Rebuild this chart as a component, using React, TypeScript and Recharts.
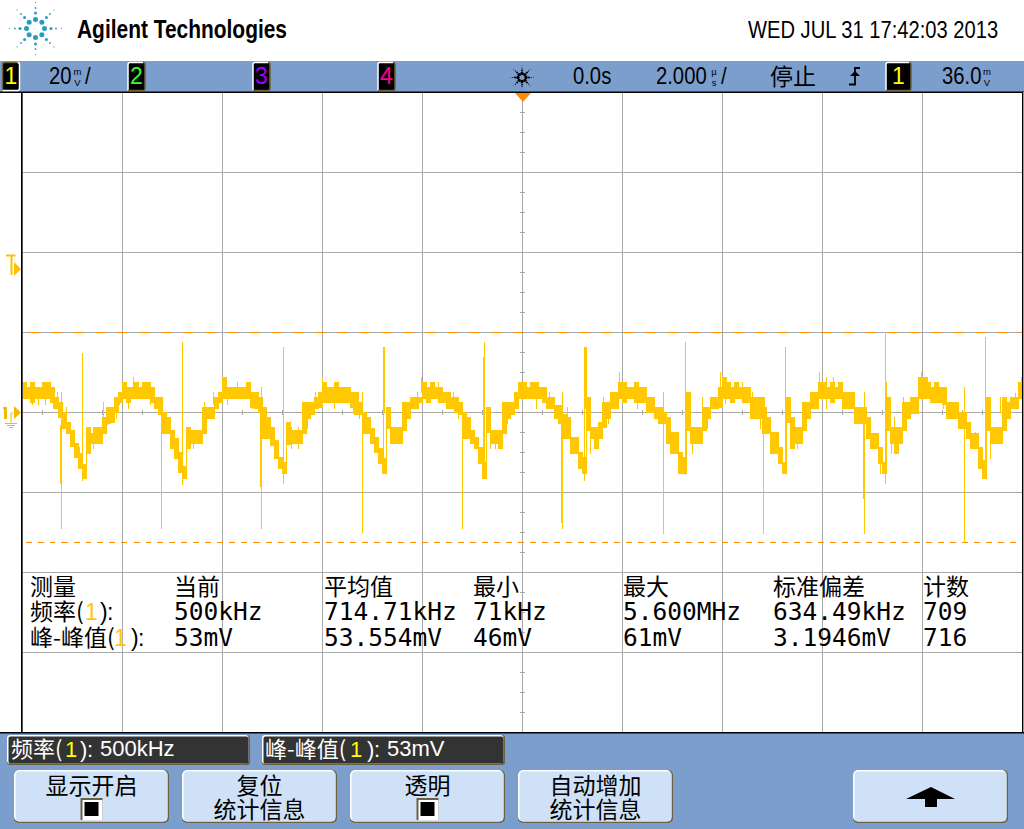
import { Area, ComposedChart, Line, ReferenceLine, XAxis, YAxis } from 'recharts';

const TRACE = '#FFC800';
const GRID = '#A8A8A8';
const THRESHOLD = '#FF8C00';
const SANS = '"Liberation Sans", Arial, sans-serif';
const MONO = '"DejaVu Sans Mono", monospace';
const CJK = '"Noto Sans CJK SC", sans-serif';

// scope settings: 2 us/div, 20 mV/div
const TIME_DIVS = [-10, -8, -6, -4, -2, 0, 2, 4, 6, 8, 10];
const VOLT_DIVS = [-80, -60, -40, -20, 0, 20, 40, 60, 80];
const SAMPLE_US = 0.08;

// upper edge of the trace in mV, one row per 2 us of screen
const traceHigh = [
  7.6, 6.3, 7.6, 6.3, 6.3, 7.6, 7.6, 6.3, 3.8, 2.6, 0, -2.4, -4.5, -7.8, -10.3, -13, -3.7, -5.3, -3.7, -3.7, -1.2, 1.3, 1.3, 3.8, 5.1,
  7.6, 6.3, 6.3, 7.6, 6.3, 7.6, 7.6, 6.3, 3.8, 3.8, 0.1, -1.2, -4.5, -6.6, -9.9, -13.6, -3.7, -4.5, -4.5, -4.5, 1.3, 1.3, 1.3, 3.8, 5.1,
  8.8, 6.3, 6.3, 6.3, 6.3, 6.3, 7.6, 5.1, 5.1, 3.8, 1.3, -1.2, -3.7, -7, -11.2, -12.4, -2.4, -4.5, -4.5, -4.5, 2.6, 2.6, 2.6, 3.8, 5.1,
  7.6, 6.3, 6.3, 7.6, 6.3, 6.3, 6.3, 5.1, 5.1, 2.6, 0.1, -1.2, -4.1, -6.2, -9.1, -11.6, 1.3, -3.7, -3.7, -3.7, 2.6, 2.6, 3.8, 3.8, 3.8,
  7.6, 6.3, 7.6, 6.3, 6.3, 5.1, 5.1, 3.8, 3.8, 2.6, 0, -1.2, -4.5, -6.2, -8.7, -12.4, 1.3, -4.5, -4.5, -4.5, 2.6, 2.6, 2.6, 5.1, 7.6,
  7.6, 6.3, 7.6, 7.6, 6.3, 6.3, 3.8, 3.8, 1.8, 1.8, -0.4, -1.2, -6.2, -6.2, -9.9, -11.2, 3.8, -3.7, -3.7, -2.4, 2.6, 2.6, 5.1, 5.1, 7.6,
  7.6, 6.3, 6.3, 7.6, 6.3, 6.3, 3.8, 3.8, 1.3, 1.3, 0.1, -1.2, -4.9, -4.9, -9.9, -11.2, 5.1, -3.7, -3.7, -3.7, 1.3, 1.3, 3.8, 3.8, 6.3,
  8.8, 7.6, 6.3, 7.6, 6.3, 6.3, 6.3, 3.8, 3.8, 3.8, 1.3, -1.2, -4.9, -4.9, -8.7, -12.4, 3.8, -1.2, -3.7, -3.7, 2.6, 2.6, 5.1, 5.1, 7.6,
  7.6, 6.3, 7.6, 6.3, 7.6, 5.1, 5.1, 5.1, 1.3, 1.3, 1.3, -1.2, -5.3, -5.3, -8.7, -12.4, 3.8, -3.7, -3.7, -3.7, 2.6, 2.6, 3.8, 3.8, 8.8,
  8.8, 7.6, 6.3, 7.6, 6.3, 6.3, 2.6, 2.6, 2.6, 0.1, 0.1, -2.4, -5.3, -5.3, -8.7, -12, 3.8, -3.7, -3.7, -3.7, 3.8, 2.6, 3.8, 3.8, 7.6, 7.6,
];

// lower edge of the trace in mV
const traceLow = [
  3.4, 3.4, 2.6, 3.4, 3.4, 3.4, 3.4, 2.6, 0.9, -1.2, -4.1, -5.3, -8.5, -11.2, -14.1, -16.6, -10.3, -7.8, -7.8, -7.8, -5.3, -2.8, -2.4, 0.1, 2.6,
  3.4, 2.6, 3.4, 3.4, 3.4, 3.4, 3.4, 2.6, 0.9, -0.4, -5.3, -5.3, -9.1, -11.6, -14.9, -16.6, -9.1, -7.8, -7.8, -7.8, -5.3, -1.6, -1.6, 0.9, 2.6,
  3.4, 3.4, 3.4, 3.4, 3.4, 3.4, 3.4, 1.3, 0.9, 0.1, -6.6, -6.6, -8.3, -11.6, -14.1, -15.3, -8, -7.8, -7.8, -7.8, -5.3, -1.6, -0.4, 0.9, 1.3,
  2.6, 2.6, 2.6, 2.6, 2.6, 2.6, 2.6, 1.3, -0.4, -0.4, -5.3, -5.3, -7.8, -10, -12.8, -15.3, -4.1, -7.8, -7.8, -7.8, -4.5, -1.6, 0.9, 0.9, 2.6,
  3.4, 2.6, 3.4, 3.4, 2.6, 2.6, 0.9, 0.9, 0.1, -0.4, -6.6, -6.6, -7.8, -9.1, -12.8, -16.6, -4.9, -7.8, -7.8, -9.1, -5.3, -1.6, -0.4, 0.9, 3.4,
  3.4, 3.4, 3.4, 3.4, 3.4, 2.6, 0.9, 0.9, -1.6, -2.8, -6.6, -6.6, -10.3, -10.3, -14.1, -15.3, -4.5, -6.6, -9.1, -6.6, -3.7, -1.6, 0.9, 0.9, 3.4,
  2.6, 3.4, 3.4, 2.6, 2.6, 2.6, 0.1, 0.1, -1.6, -2.8, -2.8, -7.8, -10.3, -10.3, -15.3, -15.3, -4.5, -7.8, -7.8, -7.8, -4.5, -1.6, 0.9, 0.9, 1.3,
  3.4, 3.4, 2.6, 3.4, 3.4, 2.6, 2.6, -1.6, -1.6, -1.6, -5.3, -5.3, -10.3, -10.3, -12.8, -15.3, -2.4, -9.1, -7.8, -7.8, -4.5, -1.6, 0.9, 0.9, 3.4,
  3.4, 3.4, 2.6, 3.4, 3.4, 0.9, 0.9, 0.9, -2.8, -2.8, -2.8, -6.6, -9.1, -9.1, -12.8, -15.3, -4.5, -7.8, -10.3, -7.8, -4.5, -1.6, -0.3, -0.3, 3.4,
  3.4, 3.4, 2.6, 2.6, 2.6, 2, -1.6, -1.6, -1.6, -4.1, -4.1, -6.6, -9.1, -9.1, -14.1, -16.6, -4.5, -7.8, -7.8, -7.8, -4.5, -1.6, 0.9, 0.9, 3.4, 4.7,
];

// switching spikes: time (us), top and bottom (mV)
const spikeTimes = [-9.22, -7.22, -5.22, -3.2, -1.2, 0.8, 2.82, 4.82, 6.84, 8.84, -8.8, -6.8, -4.78, -2.78, -0.76, 1.24, 3.26, 5.26, 7.26, 9.26, -9.24, -5.24, 0.78, 6.82, -2.76, -0.78, 1.26, 1.28, 7.28];
const spikeHighs = [5.1, 1, 6.5, 5.1, 0, 5.1, 5.1, 3.8, 5.1, 6.5, 15, 17.75, 16.5, 16.5, 17.75, 16.5, 17.75, 16.5, 20.25, 19, -3, 0, 0, 0, 16.5, 13.8, 16.5, 16.5, 7.6];
const spikeLows = [-29, -29, -29, -30.25, -29, -29, -30.25, -30.25, -30.25, -32.5, -17, -18, -17.8, -15, -16.6, -17, -15.5, -15.3, -17.8, -16.6, -17.8, -18.6, -27.5, -21.5, 0, -15, 1, 1, 0];

// thin noise whiskers sticking out of the band
const hairTimes = [-9.8, -9.68, -9.54, -9.38, -9.3, -9.12, -8.92, -8.86, -8.72, -8.58, -8.38, -8.3, -8.12, -8.06, -7.88, -7.78, -7.56, -7.44, -7.28, -6.96, -6.72, -6.58, -6.36, -6.18, -5.9, -5.7, -5.4, -4.62, -4.48, -4.3, -4.14, -4, -3.76, -3.38, -3.26, -2.58, -2.34, -2.1, -2.02, -1.8, -1.68, -1.38, -1.28, -0.64, -0.54, -0.3, 0.28, 0.54, 0.9, 1.36, 1.62, 1.72, 1.94, 2.3, 2.46, 3.4, 3.6, 3.7, 3.96, 4.06, 4.4, 4.6, 4.76, 4.84, 5.42, 5.5, 5.66, 5.94, 6.08, 6.22, 6.4, 6.54, 6.96, 7.16, 7.38, 7.44, 7.62, 7.72, 7.98, 8.1, 8.42, 8.72, 9.06, 9.36, 9.56, 9.86, 9.98];
const hairHighs = [5, 5, 5, 5.25, 5.25, 1.5, -8.5, -8.5, -5, -3.5, 2.75, 1, 4, 5.25, 5, 8.8, 7.75, 5.25, 1.5, -8.5, -5, -5, 2.75, 5.25, 5, 7.75, 5.25, -3.5, -3.5, 1, 5.25, 9, 5, 4, 2, -3.5, 1, 5.25, 9, 7.75, 7.75, 5.25, 2, -5, -5, 1, 5, 5.25, 1.5, -4, 4, 1, 10.25, 5, 6.5, -4, 4, 1, 10.25, 5, 7.75, 5.25, 1, 4, -2.4, -4, 1, 10.25, 9, 9, 4, 5.25, -4, -9, -4, -1, 4, 1, 10.25, 9, 4, 0, -4.9, -4, 4, 5, 9];
const hairLows = [2, 2, 2, 0.9, 1, -3.7, -11, -14, -10.3, -9.1, -1, -3, -1.6, 2, 0.9, 5, 4, 2, -0.3, -11, -9.1, -9.1, -1, 2, 2, 4, 1, -9.1, -9.1, -4.1, 1, 6, 0.9, -0.3, -1.6, -6, -2.8, 2, 5, 4, 4, 1, -1.6, -9.1, -9.1, -2.8, 0.9, 1, -1, -10.3, 0, -2.8, 6, 0.9, 3, -10.3, 0, -4.1, 6, 2.2, 4, 1, -4.1, 0, -6, -9.1, -2.8, 6, 0.9, 4, 0.9, 1, -7.8, -15.3, -10.3, -5, 0, -1.6, 6, 5, 0.9, -4.1, -6, -11.6, 0, 0.9, 5];

// measurement cursors
const upperThreshold = 20;
const lowerThreshold = -32.5;

const tableColumns = [174, 324, 473, 623, 773, 923];
const tableHeaders = ['当前', '平均值', '最小', '最大', '标准偏差', '计数'];
const frequencyRow = ['500kHz', '714.71kHz', '71kHz', '5.600MHz', '634.49kHz', '709'];
const peakRow = ['53mV', '53.554mV', '46mV', '61mV', '3.1946mV', '716'];

const traceData = traceHigh.map((high, i) => ({
  t: Number((-10 + i * SAMPLE_US).toFixed(2)),
  band: [traceLow[i], high],
}));

// every whisker is a top-bottom pair followed by a gap
const whiskerData = [
  ...spikeTimes.map((t, i) => [t, spikeHighs[i], spikeLows[i]]),
  ...hairTimes.map((t, i) => [t, hairHighs[i], hairLows[i]]),
].flatMap(([t, high, low]) => [
  { t, v: high },
  { t, v: low },
  { t, v: null },
]);

const minorTimes = Array.from({ length: 49 }, (_, i) => Number((-9.6 + i * 0.4).toFixed(1)));
const minorVolts = Array.from({ length: 31 }, (_, i) => -75 + i * 5);

function Spark({ cx, cy, color, scale = 1, dot = 1 }: { cx: number; cy: number; color: string; scale?: number; dot?: number }) {
  const angles = [0, 45, 90, 135, 180, 225, 270, 315];
  const rings = [
    { radius: 9, size: 2.5 },
    { radius: 15.5, size: 1.5 },
    { radius: 20.5, size: 0.9 },
    { radius: 26, size: 0.6 },
  ];
  return (
    <g transform={`translate(${cx} ${cy}) scale(${scale})`} fill={color}>
      {rings.flatMap((ring) =>
        angles.map((angle) => (
          <circle
            key={`${ring.radius}-${angle}`}
            cx={ring.radius * Math.cos((angle * Math.PI) / 180)}
            cy={ring.radius * Math.sin((angle * Math.PI) / 180)}
            r={ring.size * dot}
          />
        )),
      )}
    </g>
  );
}

function Badge({ x, w, label, color, selected }: { x: number; w: number; label: string; color: string; selected?: boolean }) {
  const y = 62.5;
  const h = 28;
  const r = x + w;
  const b = y + h;
  return (
    <g>
      <rect x={x} y={y} width={w} height={h} rx={3} fill="#000" />
      <path d={`M${x} ${b} V${y + 2} Q${x} ${y} ${x + 2} ${y} H${r - 2}`} fill="none" stroke={selected ? '#6B6040' : '#fff'} strokeWidth={1.5} />
      <path d={`M${r - 2} ${y} Q${r} ${y} ${r} ${y + 2} V${b - 2} Q${r} ${b} ${r - 2} ${b} H${x}`} fill="none" stroke={selected ? '#fff' : '#6B6040'} strokeWidth={1.5} />
      <text x={x + w / 2} y={84} textAnchor="middle" fontFamily={SANS} fontSize={23} fill={color}>
        {label}
      </text>
    </g>
  );
}

function Squeezed({ x, y, children }: { x: number; y: number; children: string }) {
  return (
    <text transform={`translate(${x} ${y}) scale(0.88 1)`} fontFamily={SANS} fontSize={23} fill="#000">
      {children}
    </text>
  );
}

function Unit({ x, top, bottom }: { x: number; top: string; bottom: string }) {
  return (
    <g fontFamily={SANS} fontSize={9.5} fill="#000" textAnchor="middle">
      <text x={x} y={75}>{top}</text>
      <text x={x} y={85.5}>{bottom}</text>
    </g>
  );
}

function SoftKey({ x, w, lines, check }: { x: number; w: number; lines: string[]; check?: boolean }) {
  const cx = x + w / 2;
  return (
    <g>
      <rect x={x} y={770} width={w} height={53} rx={5} fill="#6B6040" />
      <rect x={x} y={770} width={w - 1.5} height={51.5} rx={5} fill="#fff" />
      <rect x={x + 1.5} y={771.5} width={w - 3} height={50} rx={4} fill="#CEE1F7" />
      <text x={cx} y={794} textAnchor="middle" fontFamily={CJK} fontSize={23} fill="#000">{lines[0]}</text>
      {lines[1] && (
        <text x={cx} y={818} textAnchor="middle" fontFamily={CJK} fontSize={23} fill="#000">{lines[1]}</text>
      )}
      {check && (
        <g>
          <rect x={cx - 11} y={798} width={22} height={22} fill="#6B6040" />
          <rect x={cx - 9} y={800} width={20} height={20} fill="#fff" />
          <rect x={cx - 7} y={802} width={14} height={14} fill="#000" />
        </g>
      )}
    </g>
  );
}

function ChannelText({ name, y, size, x, one, close, colon, color, oneColor }: { name: string; y: number; size: number; x: number; one: number; close: number; colon: number; color: string; oneColor: string }) {
  return (
    <g fontFamily={SANS} fontSize={size} fill={color}>
      <text x={x} y={y} fontFamily={CJK}>{name}</text>
      <text x={one} y={y} fill={oneColor}>1</text>
      <text x={close} y={y}>)</text>
      <text x={colon} y={y}>:</text>
    </g>
  );
}

function Chrome() {
  return (
    <svg width={1024} height={829} style={{ position: 'absolute', left: 0, top: 0 }}>
      {/* header */}
      <Spark cx={35.5} cy={28.5} color="#2A9AC0" />
      <text x={77} y={37.5} fontFamily={'"Liberation Sans Narrow", "Liberation Sans"'} fontWeight={700} fontSize={25} textLength={210} lengthAdjust="spacingAndGlyphs">
        Agilent Technologies
      </text>
      <text transform="translate(748 37.5) scale(0.84 1)" fontFamily={SANS} fontSize={24}>
        WED JUL 31 17:42:03 2013
      </text>

      {/* status bar */}
      <rect x={0} y={61} width={1024} height={31} fill="#7C9ECC" />
      <rect x={0} y={91.5} width={1024} height={1.5} fill="#000" />
      <Badge x={2.5} w={17} label="1" color="#FFFF00" selected />
      <Badge x={128} w={17} label="2" color="#33FF33" />
      <Badge x={253} w={17} label="3" color="#A000FF" />
      <Badge x={378} w={17} label="4" color="#FF0090" />
      <Badge x={886} w={25} label="1" color="#FFFF00" />
      <Squeezed x={49} y={84}>20</Squeezed>
      <Squeezed x={85} y={84}>/</Squeezed>
      <Squeezed x={573} y={84}>0.0s</Squeezed>
      <Squeezed x={656} y={84}>2.000</Squeezed>
      <Squeezed x={721} y={84}>/</Squeezed>
      <Squeezed x={942} y={84}>36.0</Squeezed>
      <Unit x={77.5} top="m" bottom="V" />
      <Unit x={714} top="µ" bottom="s" />
      <Unit x={987} top="m" bottom="V" />
      <text x={770} y={85} fontFamily={CJK} fontSize={23}>停止</text>
      <Spark cx={522} cy={77.5} color="#000" scale={0.45} dot={1.5} />
      <path d="M849 84.5 H855 V68 H860" fill="none" stroke="#000" strokeWidth={1.8} />
      <path d="M850 76 L855 71 L860 76 Z" fill="#000" />

      {/* plot frame */}
      <rect x={21} y={92} width={1.5} height={641} fill="#000" />
      <rect x={1022} y={92} width={1} height={641} fill="#000" />
      <rect x={1023} y={92} width={1} height={641} fill="#7C9ECC" />
      <path d="M515 93 H531 L523 102 Z" fill="#FF8C00" />

      {/* left markers */}
      <rect x={6} y={254.5} width={9.5} height={2} fill="#FFC000" />
      <rect x={10.5} y={255} width={2} height={20} fill="#FFC000" />
      <path d="M14 262 L21 269 L14 276 Z" fill="#FFC000" />
      <rect x={4} y={407} width={3} height={12} fill="#F5B800" />
      <rect x={3} y={407} width={2} height={2} fill="#F5B800" />
      <path d="M14 406 L21 412.5 L14 419 Z" fill="#F5B800" />
      <path d="M13 413 H11 V423 M5 423.5 H17 M7 425.5 H15 M9 427.5 H13" fill="none" stroke="#F5B800" strokeWidth={1} />

      {/* measurement table */}
      <text x={30} y={595} fontFamily={CJK} fontSize={23}>测量</text>
      {tableHeaders.map((label, i) => (
        <text key={label} x={tableColumns[i]} y={595} fontFamily={CJK} fontSize={23}>{label}</text>
      ))}
      <ChannelText name="频率(" y={620} size={23} x={30} one={85} close={100} colon={107} color="#000" oneColor={TRACE} />
      <ChannelText name="峰-峰值(" y={646} size={23} x={30} one={114} close={131} colon={138} color="#000" oneColor={TRACE} />
      {frequencyRow.map((value, i) => (
        <text key={value} x={tableColumns[i]} y={620} fontFamily={MONO} fontSize={24.5}>{value}</text>
      ))}
      {peakRow.map((value, i) => (
        <text key={value} x={tableColumns[i]} y={646} fontFamily={MONO} fontSize={24.5}>{value}</text>
      ))}

      {/* softkey area */}
      <rect x={0} y={733} width={1024} height={96} fill="#7C9ECC" />
      <rect x={0} y={732} width={1024} height={1.5} fill="#000" />
      <rect x={7} y={735} width={243} height={30} rx={3} fill="#6B6040" />
      <rect x={7} y={735} width={241.5} height={28.5} rx={3} fill="#fff" />
      <rect x={8.5} y={736.5} width={240} height={27} rx={2} fill="#333" />
      <rect x={262} y={735} width={243} height={30} rx={3} fill="#6B6040" />
      <rect x={262} y={735} width={241.5} height={28.5} rx={3} fill="#fff" />
      <rect x={263.5} y={736.5} width={240} height={27} rx={2} fill="#333" />
      <ChannelText name="频率(" y={757} size={22} x={11} one={65} close={80} colon={87} color="#fff" oneColor="#FFFF00" />
      <text x={100} y={756} fontFamily={SANS} fontSize={22} fill="#fff">500kHz</text>
      <ChannelText name="峰-峰值(" y={757} size={22} x={265} one={350} close={367} colon={374} color="#fff" oneColor="#FFFF00" />
      <text x={387} y={756} fontFamily={SANS} fontSize={22} fill="#fff">53mV</text>

      <SoftKey x={14} w={155} lines={['显示开启']} check />
      <SoftKey x={182} w={155} lines={['复位', '统计信息']} />
      <SoftKey x={350} w={155} lines={['透明']} check />
      <SoftKey x={518} w={155} lines={['自动增加', '统计信息']} />
      <SoftKey x={853} w={155} lines={['']} />
      <path d="M906 799 L931 787 L955 799 H937 V807 H925 V799 Z" fill="#000" />
    </svg>
  );
}

export default function App() {
  return (
    <div style={{ position: 'absolute', left: 0, top: 0, width: 1024, height: 829, overflow: 'hidden', background: '#fff' }}>
      <style>{'.scope-trace path { shape-rendering: crispEdges; } .recharts-reference-line line { shape-rendering: crispEdges; }'}</style>
      <ComposedChart
        width={1024}
        height={829}
        data={traceData}
        margin={{ top: 92.5, right: 1.5, bottom: 96.5, left: 22.5 }}
      >
        <XAxis dataKey="t" type="number" domain={[-10, 10]} ticks={TIME_DIVS} allowDataOverflow height={0} tick={false} axisLine={false} tickLine={false} />
        <YAxis type="number" domain={[-80, 80]} ticks={VOLT_DIVS} allowDataOverflow width={0} tick={false} axisLine={false} tickLine={false} />
        {TIME_DIVS.map((t) => (
          <ReferenceLine key={`gx${t}`} x={t} stroke={GRID} zIndex={-50} />
        ))}
        {VOLT_DIVS.map((v) => (
          <ReferenceLine key={`gy${v}`} y={v} stroke={GRID} zIndex={-50} />
        ))}
        {minorTimes.map((t) => (
          <ReferenceLine key={`tx${t}`} segment={[{ x: t, y: -0.6 }, { x: t, y: 0.6 }]} stroke={GRID} zIndex={-50} />
        ))}
        {minorVolts.map((v) => (
          <ReferenceLine key={`ty${v}`} segment={[{ x: -0.05, y: v }, { x: 0.05, y: v }]} stroke={GRID} zIndex={-50} />
        ))}
        <ReferenceLine y={upperThreshold} stroke={THRESHOLD} strokeDasharray="11 11" strokeDashoffset={16} />
        <ReferenceLine y={lowerThreshold} stroke={THRESHOLD} strokeDasharray="6 6" strokeDashoffset={9} />
        <Area
          className="scope-trace"
          dataKey="band"
          type="stepAfter"
          stroke={TRACE}
          strokeWidth={1}
          fill={TRACE}
          fillOpacity={1}
          dot={false}
          activeDot={false}
          isAnimationActive={false}
        />
        <Line
          className="scope-trace"
          data={whiskerData}
          dataKey="v"
          type="linear"
          stroke={TRACE}
          strokeWidth={1}
          dot={false}
          activeDot={false}
          connectNulls={false}
          isAnimationActive={false}
        />
      </ComposedChart>
      <Chrome />
    </div>
  );
}
